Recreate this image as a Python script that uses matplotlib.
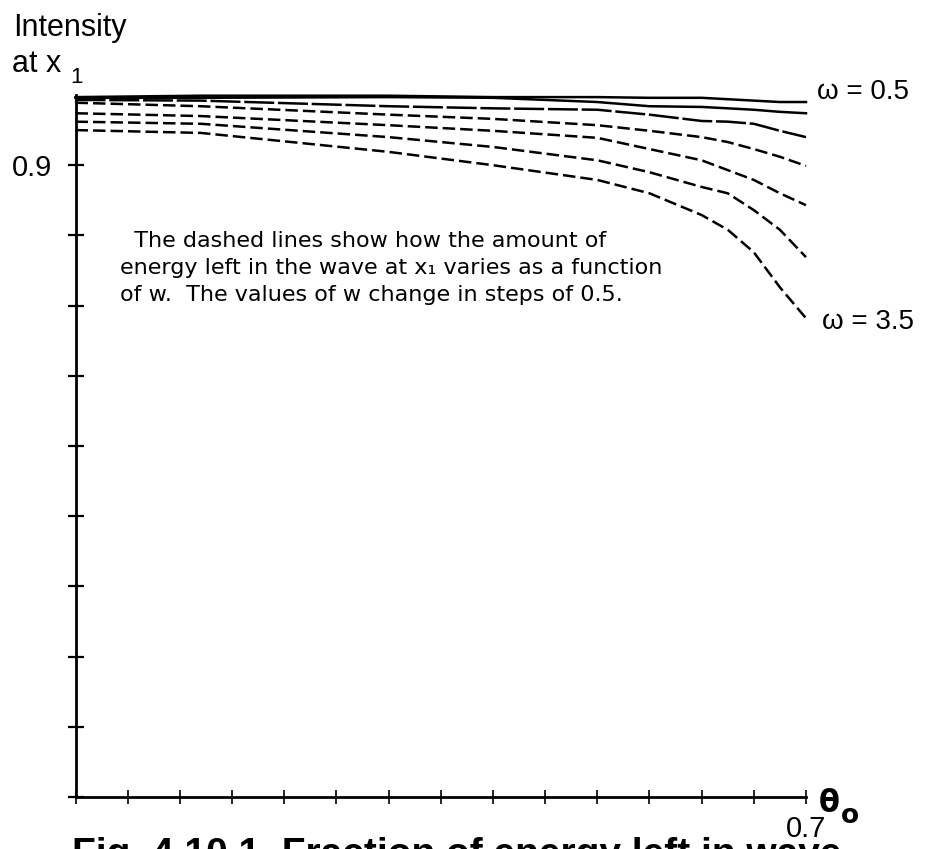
#!/usr/bin/env python3
"""Intensity at x1 as a function of theta0 for omega = 0.5 ... 3.5."""

import matplotlib

matplotlib.use("Agg")
import matplotlib.pyplot as plt

W, H = 935, 849

# values (intensity at x1 vs theta0)
THETA = [0.0, 0.12, 0.3, 0.4, 0.5, 0.55, 0.6, 0.625, 0.65, 0.675, 0.7]
OMEGAS = [0.5, 1.0, 1.5, 2.0, 2.5, 3.0, 3.5]
INTENSITY_W05 = [0.997, 0.999, 0.999, 0.997, 0.997, 0.996, 0.996, 0.994, 0.992, 0.990, 0.990]
INTENSITY_W10 = [0.996, 0.996, 0.997, 0.996, 0.990, 0.984, 0.983, 0.981, 0.979, 0.976, 0.974]
INTENSITY_W15 = [0.993, 0.992, 0.984, 0.981, 0.979, 0.972, 0.963, 0.962, 0.959, 0.949, 0.940]
INTENSITY_W20 = [0.989, 0.984, 0.972, 0.966, 0.957, 0.949, 0.940, 0.933, 0.923, 0.912, 0.899]
INTENSITY_W25 = [0.974, 0.970, 0.957, 0.949, 0.939, 0.923, 0.907, 0.893, 0.879, 0.860, 0.843]
INTENSITY_W30 = [0.962, 0.959, 0.940, 0.926, 0.907, 0.890, 0.869, 0.860, 0.836, 0.808, 0.769]
INTENSITY_W35 = [0.950, 0.946, 0.919, 0.900, 0.879, 0.860, 0.829, 0.808, 0.776, 0.726, 0.682]

Y_TICKS = [0.0, 0.1, 0.2, 0.3, 0.4, 0.5, 0.6, 0.7, 0.8, 0.9]
Y_TICK_LABELS = ["", "", "", "", "", "", "", "", "", "0.9"]
X_TICKS = [0.0, 0.05, 0.1, 0.15, 0.2, 0.25, 0.3, 0.35, 0.4, 0.45, 0.5, 0.55, 0.6, 0.65, 0.7]
X_TICK_LABELS = ["", "", "", "", "", "", "", "", "", "", "", "", "", "", "0.7"]

LABEL_FONT = ["Liberation Sans", "DejaVu Sans"]
BODY_FONT = ["DejaVu Sans"]


def px(x, y):
    """Pixel position in the 935x849 picture -> figure fraction."""
    return x / W, 1 - y / H


def main() -> None:
    series = [INTENSITY_W05, INTENSITY_W10, INTENSITY_W15, INTENSITY_W20,
              INTENSITY_W25, INTENSITY_W30, INTENSITY_W35]
    dash_styles = [None, None, (12, 1.5), (5, 2), (5, 2), (5, 2), (5, 2)]

    fig = plt.figure(figsize=(W / 100, H / 100), dpi=100)
    ax = fig.add_axes([75.5 / W, 1 - 797 / H, (806 - 75.5) / W, (797 - 95) / H])

    for omega, values, dashes in zip(OMEGAS, series, dash_styles):
        line, = ax.plot(THETA, values, color="black", lw=1.8, clip_on=False)
        if dashes is not None:
            line.set_dashes(dashes)

    ax.set_xlim(0, 0.7)
    ax.set_ylim(0, 1.0)
    for side in ("top", "right"):
        ax.spines[side].set_visible(False)
    for side in ("left", "bottom"):
        ax.spines[side].set_linewidth(2.0)

    ax.set_yticks(Y_TICKS, Y_TICK_LABELS, fontsize=21, family=LABEL_FONT)
    ax.set_xticks(X_TICKS, X_TICK_LABELS, fontsize=21, family=LABEL_FONT)
    ax.tick_params(axis="y", direction="inout", length=12, width=1.6, pad=11)
    ax.tick_params(axis="x", direction="inout", length=9.5, width=1.2, pad=8)

    # curve labels at the right-hand ends
    ax.annotate("ω = 0.5", xy=(THETA[-1], INTENSITY_W05[-1]), xytext=(11, 10),
                textcoords="offset pixels", va="center", ha="left",
                fontsize=20, family=LABEL_FONT, annotation_clip=False)
    ax.annotate("ω = 3.5", xy=(THETA[-1], INTENSITY_W35[-1]), xytext=(16, -4),
                textcoords="offset pixels", va="center", ha="left",
                fontsize=20, family=LABEL_FONT, annotation_clip=False)

    # y axis title
    fig.text(*px(13, 36), "Intensity", fontsize=22, family=LABEL_FONT, va="baseline")
    fig.text(*px(12, 72), "at x", fontsize=22, family=LABEL_FONT, va="baseline")
    fig.text(*px(70, 83), "1", fontsize=16, family=LABEL_FONT, va="baseline")

    # x axis title (theta naught)
    fig.text(*px(819, 812), "θ", fontsize=22, fontweight="bold", family=BODY_FONT, va="baseline")
    fig.text(*px(841, 823), "o", fontsize=19, fontweight="bold", family=BODY_FONT, va="baseline")

    # note inside the plot
    note = [
        ("  The dashed lines show how the amount of", 247),
        ("energy left in the wave at x₁ varies as a function", 274),
        ("of w.  The values of w change in steps of 0.5.", 301),
    ]
    for text, baseline in note:
        fig.text(*px(120, baseline), text, fontsize=16, family=BODY_FONT, va="baseline")

    # caption, cut off by the bottom edge of the scan
    fig.text(*px(72, 837), "Fig. 4.10.1  Fraction of energy left in wave",
             fontsize=28, fontweight="bold", family=LABEL_FONT, va="top")

    fig.savefig("out.png", dpi=100)
    plt.close(fig)


if __name__ == "__main__":
    main()
